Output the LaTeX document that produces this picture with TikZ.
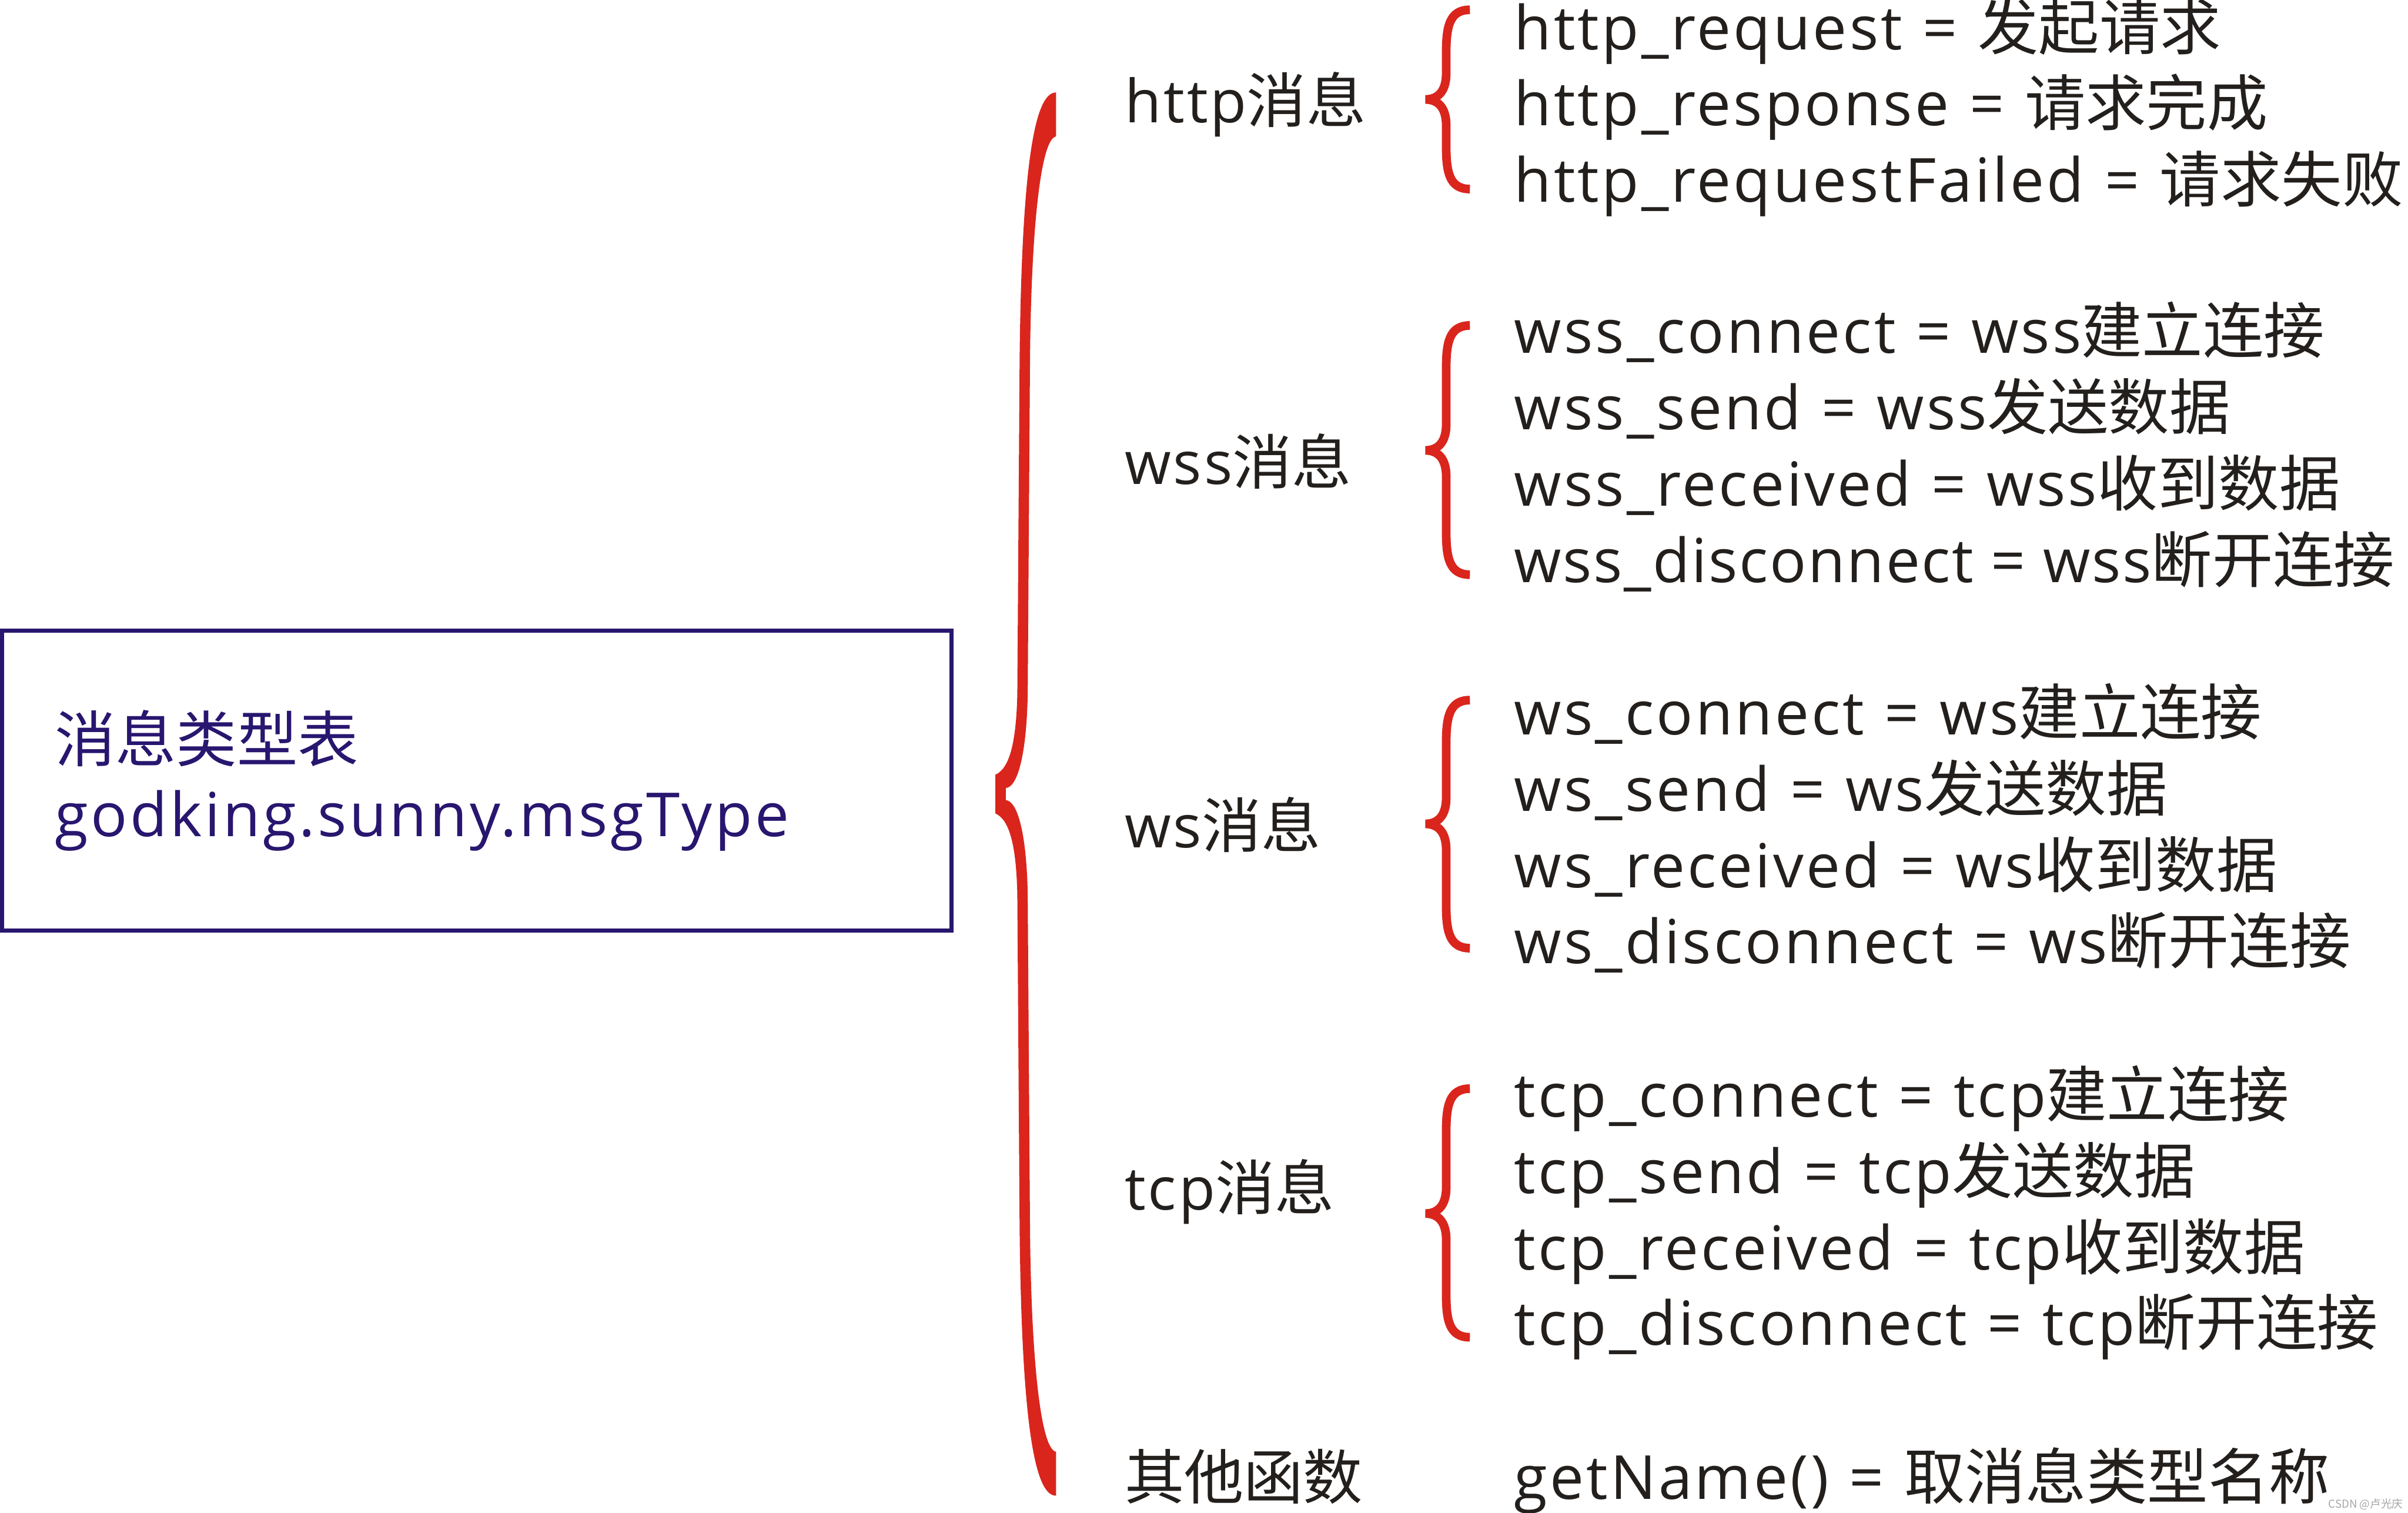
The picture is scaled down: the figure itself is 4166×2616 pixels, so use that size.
\documentclass[tikz,border=0pt]{standalone}
\usepackage{fontspec}
\setmainfont{Open Sans}[LetterSpace=4.0, WordSpace=1.12]
\newfontfamily\boxfont{Open Sans}[LetterSpace=4.5]
\newfontfamily\tightfont{Open Sans}[LetterSpace=2.6, WordSpace=1.0]
\newfontfamily\cjk{Noto Sans CJK SC}
\definecolor{bred}{RGB}{218,37,29}
\definecolor{navy}{RGB}{40,22,111}
\definecolor{ink}{RGB}{35,31,28}
\tikzset{
  item/.style={anchor=base west, inner sep=0pt, text=ink, font=\fontsize{29.9}{36}\selectfont},
  lab/.style={anchor=base west, inner sep=0pt, text=ink, font=\fontsize{29.3}{35}\selectfont},
  boxtxt/.style={anchor=base west, inner sep=0pt, text=navy, font=\boxfont\fontsize{29.9}{36}\selectfont},
  rootbox/.style={draw=navy, line width=2pt, minimum width=16.42cm, minimum height=5.18cm, inner sep=0pt},
  sbr/.style={draw=bred, line width=4.27pt, line cap=butt},
}
\newcommand\mysbrace[3]{%
  \draw[sbr] (2543,#1) .. controls (2507,#1) and (2502,{#1+30}) .. (2502,{#1+75})
    -- (2502,{#2-45}) .. controls (2502,{#2-10}) and (2484,#2) .. (2466,#2)
    .. controls (2484,#2) and (2502,{#2+10}) .. (2502,{#2+45})
    -- (2502,{#3-75}) .. controls (2502,{#3-30}) and (2507,#3) .. (2543,#3);}
\begin{document}
\begin{tikzpicture}[x=0.01cm,y=-0.01cm]
\useasboundingbox (0,0) rectangle (4166,2616);
% root box
\node[rootbox] (root) at (825,1350) {};
\node[boxtxt] (t1) at (94,1318) {\cjk 消息类型表};
\node[boxtxt] (t2) at (94,1447) {godking.sunny.msgType};
% big brace
\fill[bred] (1827,160) .. controls (1795,160) and (1768,250) .. (1764,620)
  -- (1760,1200) .. controls (1758,1290) and (1745,1330) .. (1722,1340)
  -- (1722,1407) .. controls (1745,1417) and (1758,1457) .. (1760,1547)
  -- (1764,2127) .. controls (1768,2497) and (1795,2587) .. (1827,2587)
  -- (1827,2511) .. controls (1800,2507) and (1784,2347) .. (1782,2127)
  -- (1778,1547) .. controls (1776,1440) and (1760,1385) .. (1740,1384)
  -- (1740,1363) .. controls (1760,1362) and (1776,1307) .. (1778,1200)
  -- (1782,620) .. controls (1784,400) and (1800,240) .. (1827,236) -- cycle;
% labels
\node[lab] (lhttp) at (1945,212) {http{\cjk 消息}};
\node[lab] (lwss) at (1945,838) {wss{\cjk 消息}};
\node[lab] (lws) at (1945,1466) {ws{\cjk 消息}};
\node[lab] (ltcp) at (1945,2093) {tcp{\cjk 消息}};
\node[lab] (lother) at (1945,2593) {\cjk 其他函数};
% small braces
\mysbrace{17}{172}{327}
\mysbrace{563}{779}{994}
\mysbrace{1211}{1425}{1640}
\mysbrace{1883}{2099}{2313}
% items
\node[item] (h1) at (2619,86) {http\_request = {\cjk 发起请求}};
\node[item] (h2) at (2619,217) {http\_response = {\cjk 请求完成}};
\node[item] (h3) at (2619,349) {http\_requestFailed = {\cjk 请求失败}};
\node[item] (s1) at (2619,611) {wss\_connect = wss{\cjk 建立连接}};
\node[item] (s2) at (2619,743) {wss\_send = wss{\cjk 发送数据}};
\node[item] (s3) at (2619,875) {wss\_received = wss{\cjk 收到数据}};
\node[item] (s4) at (2619,1007) {\tightfont wss\_disconnect = wss{\cjk 断开连接}};
\node[item] (w1) at (2619,1271) {ws\_connect = ws{\cjk 建立连接}};
\node[item] (w2) at (2619,1403) {ws\_send = ws{\cjk 发送数据}};
\node[item] (w3) at (2619,1535) {ws\_received = ws{\cjk 收到数据}};
\node[item] (w4) at (2619,1667) {ws\_disconnect = ws{\cjk 断开连接}};
\node[item] (c1) at (2619,1932) {tcp\_connect = tcp{\cjk 建立连接}};
\node[item] (c2) at (2619,2064) {tcp\_send = tcp{\cjk 发送数据}};
\node[item] (c3) at (2619,2196) {tcp\_received = tcp{\cjk 收到数据}};
\node[item] (c4) at (2619,2327) {tcp\_disconnect = tcp{\cjk 断开连接}};
\node[item] (g1) at (2619,2593) {getName() = {\cjk 取消息类型名称}};
% watermark
\node[anchor=base east, inner sep=0pt, text=black!35, font=\cjk\fontsize{5.4}{6}\selectfont] (wm) at (4158,2608) {CSDN @卢光庆};
\end{tikzpicture}
\end{document}
